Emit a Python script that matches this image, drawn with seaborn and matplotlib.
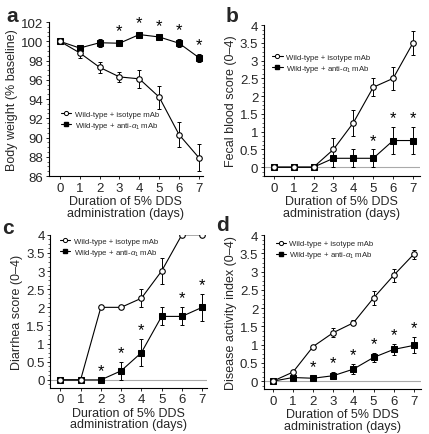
import numpy as np
import pandas as pd
import matplotlib
matplotlib.use("Agg")
import matplotlib.pyplot as plt
import seaborn as sns
from matplotlib.ticker import MultipleLocator
from matplotlib.lines import Line2D

sns.set_theme(style="ticks")
plt.rcParams['font.family'] = ['Liberation Sans', 'DejaVu Sans']
plt.rcParams['mathtext.fontset'] = 'custom'
plt.rcParams['mathtext.rm'] = 'Liberation Sans'
plt.rcParams['mathtext.it'] = 'Liberation Sans:italic'

days = [0, 1, 2, 3, 4, 5, 6, 7]
series_names = ["Wild-type + isotype mAb", r"Wild-type + anti-$\alpha_1$ mAb"]

# Panel a: body weight
a_iso = [100, 98.8, 97.3, 96.3, 96.1, 94.2, 90.3, 87.9]
a_iso_err = [0, 0.5, 0.6, 0.5, 0.9, 1.2, 1.3, 1.4]
a_anti = [100, 99.3, 99.85, 99.8, 100.7, 100.45, 99.8, 98.3]
a_anti_err = [0, 0.3, 0.4, 0.3, 0.3, 0.25, 0.4, 0.4]
a_stars = [3, 4, 5, 6, 7]

# Panel b: fecal blood score
b_iso = [0, 0, 0, 0.5, 1.25, 2.25, 2.5, 3.5]
b_iso_err = [0, 0, 0, 0.33, 0.37, 0.25, 0.33, 0.33]
b_anti = [0, 0, 0, 0.25, 0.25, 0.25, 0.75, 0.75]
b_anti_err = [0, 0, 0, 0.25, 0.25, 0.25, 0.37, 0.37]
b_stars = [5, 6, 7]

# Panel c: diarrhea score
c_iso = [0, 0, 2, 2, 2.25, 3, 4, 4]
c_iso_err = [0, 0, 0, 0, 0.25, 0.37, 0, 0]
c_anti = [0, 0, 0, 0.25, 0.75, 1.75, 1.75, 2]
c_anti_err = [0, 0, 0, 0.25, 0.37, 0.25, 0.25, 0.37]
c_stars = [2, 3, 4, 6, 7]

# Panel d: disease activity index
d_iso = [0, 0.25, 0.95, 1.33, 1.6, 2.28, 2.9, 3.48]
d_iso_err = [0, 0.04, 0.04, 0.12, 0.07, 0.2, 0.17, 0.12]
d_anti = [0, 0.1, 0.08, 0.15, 0.33, 0.65, 0.87, 0.98]
d_anti_err = [0, 0.07, 0.06, 0.1, 0.13, 0.12, 0.15, 0.22]
d_stars = [2, 3, 4, 5, 6, 7]

fig = plt.figure(figsize=(4.29, 4.35), dpi=100)

score_ticks = [0, 0.5, 1, 1.5, 2, 2.5, 3, 3.5, 4]
panels = [
    dict(letter="a", lpos=(6, 432 - 4), rect=[0.114, 0.593, 0.359, 0.354], iso=a_iso, iso_err=a_iso_err,
         anti=a_anti, anti_err=a_anti_err, stars=a_stars, ylabel="Body weight (% baseline)",
         ylim=(86, 102), yticks=[86, 88, 90, 92, 94, 96, 98, 100, 102],
         xlim=(-0.55, 7.2), zero=False, leg=(0.045, 0.46), star_off=0.2, minor=0.5),
    dict(letter="b", lpos=(226, 432 - 4), rect=[0.615, 0.593, 0.364, 0.347], iso=b_iso, iso_err=b_iso_err,
         anti=b_anti, anti_err=b_anti_err, stars=b_stars, ylabel="Fecal blood score (0\u20134)",
         ylim=(-0.25, 4), yticks=score_ticks,
         xlim=(-0.5, 7.35), zero=True, leg=(0.02, 0.85), star_off=0.05, minor=0.125),
    dict(letter="c", lpos=(2, 435 - 219), rect=[0.117, 0.106, 0.366, 0.352], iso=c_iso, iso_err=c_iso_err,
         anti=c_anti, anti_err=c_anti_err, stars=c_stars, ylabel="Diarrhea score (0\u20134)",
         ylim=(-0.22, 4), yticks=score_ticks,
         xlim=(-0.5, 7.25), zero=True, leg=(0.03, 1.02), star_off=0.05, minor=0.125),
    dict(letter="d", lpos=(216, 435 - 216), rect=[0.615, 0.103, 0.366, 0.354], iso=d_iso, iso_err=d_iso_err,
         anti=d_anti, anti_err=d_anti_err, stars=d_stars, ylabel="Disease activity index (0\u20134)",
         ylim=(-0.22, 4), yticks=score_ticks,
         xlim=(-0.45, 7.35), zero=True, leg=(0.04, 1.005), star_off=0.05, minor=0.125),
]


def fmt(v):
    return ("%g" % v)


for p in panels:
    ax = fig.add_axes(p["rect"])
    df = pd.DataFrame({
        "day": days * 2,
        "value": list(p["anti"]) + list(p["iso"]),
        "group": [series_names[1]] * 8 + [series_names[0]] * 8,
    })
    if p["zero"]:
        ax.axhline(0, color="#aaaaaa", lw=0.8, zorder=0.5)
    ax.errorbar(days, p["anti"], yerr=p["anti_err"], fmt="none", ecolor="black",
                elinewidth=0.7, capsize=1.2, capthick=0.7, zorder=1)
    ax.errorbar(days, p["iso"], yerr=p["iso_err"], fmt="none", ecolor="black",
                elinewidth=0.7, capsize=1.2, capthick=0.7, zorder=1)
    sns.lineplot(data=df, x="day", y="value", hue="group", style="group",
                 hue_order=series_names, style_order=series_names,
                 palette=["black", "black"], markers={series_names[0]: "o", series_names[1]: "s"},
                 dashes=False, markersize=4, linewidth=0.8, ax=ax, legend=False, zorder=2)
    for ln in ax.get_lines():
        if ln.get_marker() == "o":
            ln.set_markerfacecolor("white")
            ln.set_markeredgecolor("black")
            ln.set_markeredgewidth(0.8)
            ln.set_zorder(3)
        elif ln.get_marker() == "s":
            ln.set_markerfacecolor("black")
            ln.set_markeredgecolor("black")
            ln.set_markersize(3.8)
    for s in p["stars"]:
        i = days.index(s)
        ytop = p["anti"][i] + p["anti_err"][i]
        ax.text(s, ytop + p["star_off"], "*", ha="center", va="bottom", fontsize=12,
                color="black")
    ax.set_xlim(*p["xlim"])
    ax.set_ylim(*p["ylim"])
    ax.set_xticks(days)
    ax.set_xticklabels([str(d) for d in days])
    ax.set_yticks(p["yticks"])
    ax.set_yticklabels([fmt(v) for v in p["yticks"]])
    ax.yaxis.set_minor_locator(MultipleLocator(p["minor"]))
    ax.tick_params(axis="both", which="major", labelsize=9.5, length=2.5, width=0.7, pad=1.5,
                   direction="out")
    ax.tick_params(axis="y", which="minor", length=1.5, width=0.5)
    ax.set_xlabel("Duration of 5% DDS\nadministration (days)", fontsize=9, labelpad=1,
                  linespacing=0.95)
    ax.set_ylabel(p["ylabel"], fontsize=9, labelpad=2)
    for sp in ["top", "right"]:
        ax.spines[sp].set_visible(False)
    for sp in ["left", "bottom"]:
        ax.spines[sp].set_linewidth(0.8)
        ax.spines[sp].set_color("black")
    ax.set_facecolor("white")
    handles = [
        Line2D([0], [0], color="black", lw=0.8, marker="o", markersize=3,
               markerfacecolor="white", markeredgecolor="black", markeredgewidth=0.7),
        Line2D([0], [0], color="black", lw=0.8, marker="s", markersize=3,
               markerfacecolor="black", markeredgecolor="black"),
    ]
    ax.legend(handles, series_names, loc="upper left", bbox_to_anchor=p["leg"],
              fontsize=5.6, frameon=False, handlelength=1.3, handletextpad=0.4,
              labelspacing=0.25, borderaxespad=0.3)
    fig.text(p["lpos"][0] / 429, p["lpos"][1] / 435, p["letter"],
             fontsize=15, fontweight="bold", ha="left", va="top")

fig.savefig("out.png", dpi=100, facecolor="white")
